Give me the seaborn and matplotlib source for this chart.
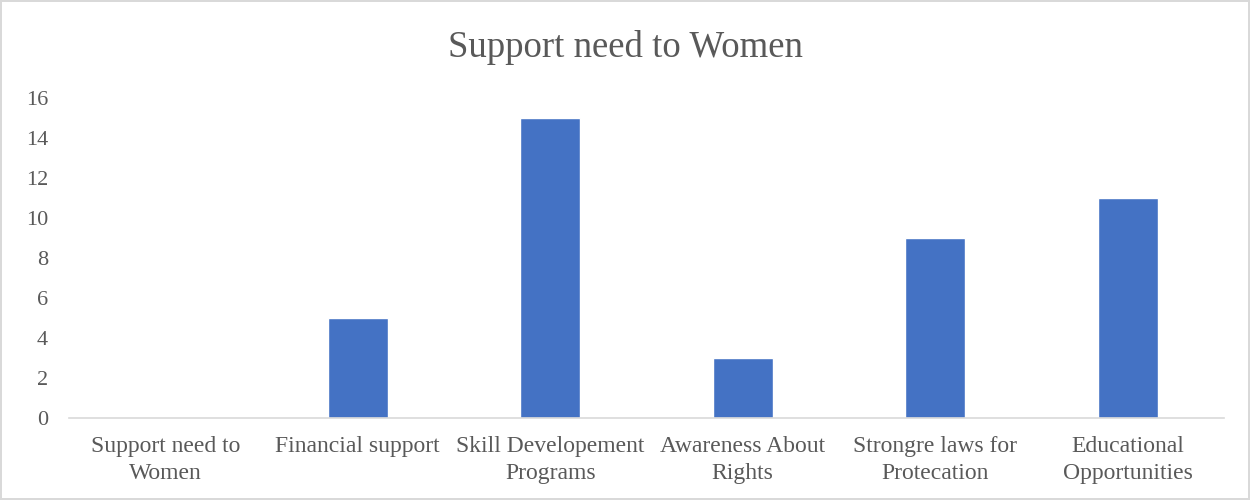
import matplotlib
matplotlib.use('Agg')
import matplotlib.pyplot as plt
import seaborn as sns
import pandas as pd

# Dane wykresu
categories = ['Support need to\nWomen', 'Financial support', 'Skill Developement\nPrograms',
              'Awareness About\nRights', 'Strongre laws for\nProtecation', 'Educational\nOpportunities']
values = [0, 5, 15, 3, 9, 11]
y_ticks = [0, 2, 4, 6, 8, 10, 12, 14, 16]

df = pd.DataFrame({'Category': categories, 'Value': values})

sns.set_style('white')
plt.rcParams['font.family'] = ['Liberation Serif', 'DejaVu Serif']

fig = plt.figure(figsize=(12.5, 5), dpi=100)
fig.patch.set_edgecolor('#d9d9d9')
fig.patch.set_linewidth(1.5)
ax = fig.add_axes([0.0552, 0.164, 0.924, 0.64])

sns.barplot(data=df, x='Category', y='Value', color='#4472C4', width=0.31, ax=ax, saturation=1)

ax.set_ylim(0, 16)
ax.set_yticks(y_ticks)
ax.set_xlim(-0.5, len(categories) - 0.5)
ax.set_xlabel('')
ax.set_ylabel('')
ax.tick_params(axis='y', length=0, labelsize=16, colors='#595959', pad=15)
ax.tick_params(axis='x', length=0, labelsize=17, colors='#595959', pad=13)
for lbl in ax.get_xticklabels():
    lbl.set_linespacing(1.4)
for s in ['top', 'right', 'left']:
    ax.spines[s].set_visible(False)
ax.spines['bottom'].set_color('#d9d9d9')
ax.spines['bottom'].set_linewidth(1.2)

fig.text(0.5, 0.905, 'Support need to Women', ha='center', va='center', fontsize=26.5, color='#595959')

plt.savefig('out.png', dpi=100, edgecolor=fig.get_edgecolor())
